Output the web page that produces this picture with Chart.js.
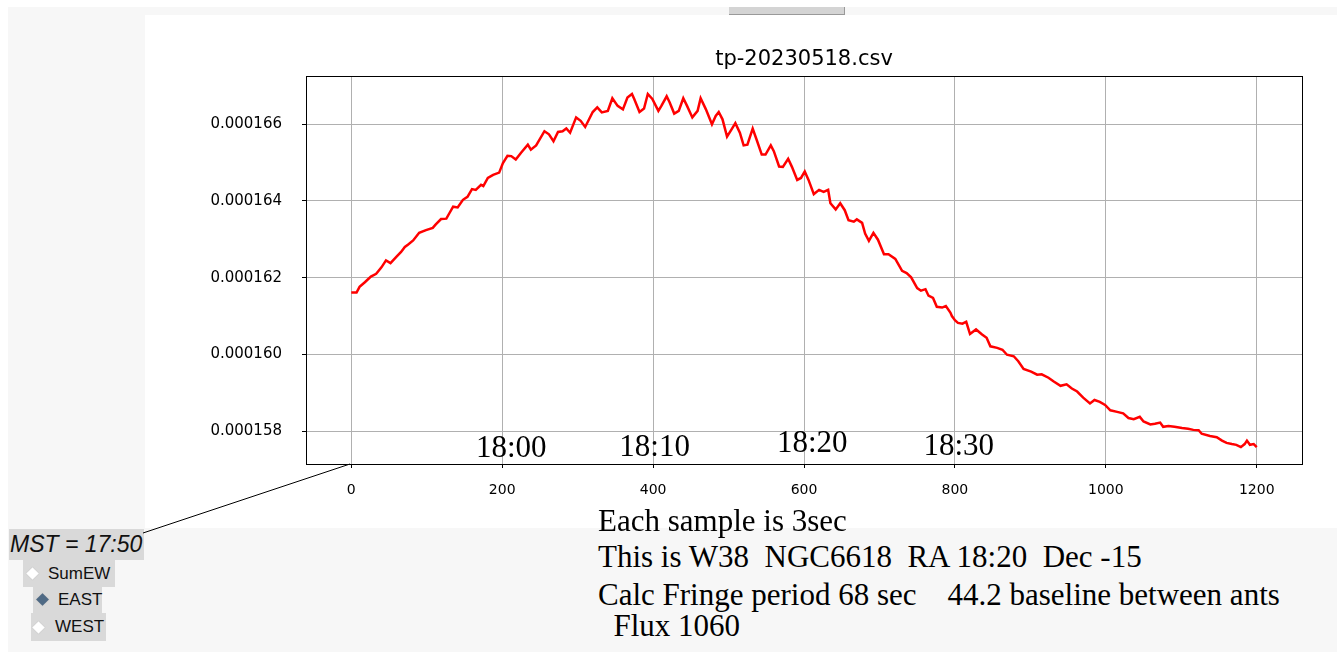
<!DOCTYPE html>
<html>
<head>
<meta charset="utf-8">
<script src="https://cdn.jsdelivr.net/npm/chart.js@4"></script>
<style>
  body { margin: 0; width: 1337px; height: 660px; background: #fff; position: relative; overflow: hidden; font-family: "Liberation Sans", sans-serif; }
  #back { position: absolute; left: 8px; top: 7px; width: 1329px; height: 645px; background: #f7f7f7; }
  #btn { position: absolute; left: 729px; top: 7px; width: 115px; height: 7px; background: #d4d4d4; border-right: 1px solid #999; border-bottom: 1px solid #999; }
  #panel { position: absolute; left: 145px; top: 15px; width: 1192px; height: 513px; background: #fff; }
  #wire { position: absolute; left: 0; top: 0; pointer-events: none; }
  .note { position: absolute; left: 598px; font-family: "Liberation Serif", serif; font-size: 31px; line-height: 34px; color: #000; white-space: pre; }
  #mst { position: absolute; left: 9px; top: 529px; width: 135px; height: 31px; background: #d9d9d9; font-style: italic; font-size: 23px; line-height: 31px; color: #111; white-space: nowrap; }
  #mst span { margin-left: 1px; }
  .radio { position: absolute; background: #d9d9d9; font-size: 17px; color: #111; }
  .radio .dia { position: absolute; width: 9px; height: 9px; transform: rotate(45deg); background: #fff; box-shadow: 0 0 1px #aaa; }
  .radio .lbl { position: absolute; top: 0; }
</style>
</head>
<body>
<div id="back"></div>
<div id="btn"></div>
<div id="panel"><canvas id="chart" width="1192" height="513"></canvas></div>

<div class="note" style="top:504px">Each sample is 3sec</div>
<div class="note" style="top:540px">This is W38  NGC6618  RA 18:20  Dec -15</div>
<div class="note" style="top:578px">Calc Fringe period 68 sec    44.2 baseline between ants</div>
<div class="note" style="top:609px">  Flux 1060</div>

<div id="mst"><span>MST = 17:50</span></div>
<div class="radio" style="left:23px;top:560px;width:92px;height:27px">
  <span class="dia" style="left:5px;top:9px"></span><span class="lbl" style="left:25px;line-height:27px">SumEW</span>
</div>
<div class="radio" style="left:33px;top:587px;width:69px;height:26px">
  <span class="dia" style="left:5px;top:8px;background:#4f6a85"></span><span class="lbl" style="left:25px;line-height:26px">EAST</span>
</div>
<div class="radio" style="left:31px;top:613px;width:75px;height:28px">
  <span class="dia" style="left:3px;top:10px"></span><span class="lbl" style="left:24px;line-height:28px">WEST</span>
</div>

<svg id="wire" width="1337" height="660"><line x1="143" y1="533" x2="350" y2="464" stroke="#000" stroke-width="1"/></svg>

<script>
// sample index (3 s each) and total power
const samples = [
  0, 7, 11, 18, 26, 33, 40, 46, 52, 60, 66, 71, 75, 82, 90, 99, 108, 112, 119, 126,
  130, 135, 141, 148, 154, 160, 165, 172, 175, 181, 188, 196, 201, 207, 212, 218, 225, 234, 238, 245,
  256, 262, 268, 274, 280, 285, 290, 298, 304, 310, 320, 326, 332, 340, 346, 353, 360, 366, 372, 375,
  382, 388, 393, 399, 407, 411, 418, 422, 428, 434, 440, 445, 452, 459, 463, 470, 478, 483, 487, 492,
  498, 504, 509, 515, 520, 525, 532, 537, 544, 549, 556, 560, 567, 572, 579, 584, 591, 596, 601, 606,
  613, 620, 626, 632, 635, 642, 648, 654, 659, 666, 670, 677, 681, 686, 692, 698, 706, 712, 721, 730,
  736, 742, 750, 755, 761, 765, 771, 776, 783, 788, 794, 796, 800, 804, 810, 815, 820, 828, 836, 842,
  847, 856, 863, 869, 878, 884, 891, 901, 909, 915, 924, 931, 940, 948, 955, 962, 970, 979, 985, 992,
  999, 1006, 1015, 1023, 1030, 1037, 1045, 1050, 1059, 1065, 1072, 1076, 1083, 1091, 1101, 1109, 1116, 1123, 1127, 1138,
  1147, 1154, 1160, 1167, 1173, 1179, 1184, 1187, 1191, 1196, 1200
];
const power = [
  161.61e-6, 161.61e-6, 161.76e-6, 161.88e-6, 162.03e-6, 162.10e-6, 162.27e-6, 162.45e-6, 162.38e-6, 162.55e-6,
  162.67e-6, 162.80e-6, 162.86e-6, 162.97e-6, 163.17e-6, 163.24e-6, 163.30e-6, 163.39e-6, 163.53e-6, 163.54e-6,
  163.68e-6, 163.85e-6, 163.83e-6, 164.03e-6, 164.11e-6, 164.31e-6, 164.29e-6, 164.42e-6, 164.39e-6, 164.60e-6,
  164.68e-6, 164.74e-6, 164.99e-6, 165.18e-6, 165.17e-6, 165.08e-6, 165.26e-6, 165.47e-6, 165.34e-6, 165.45e-6,
  165.82e-6, 165.74e-6, 165.56e-6, 165.80e-6, 165.82e-6, 165.89e-6, 165.78e-6, 166.18e-6, 166.09e-6, 165.93e-6,
  166.32e-6, 166.44e-6, 166.31e-6, 166.35e-6, 166.68e-6, 166.48e-6, 166.39e-6, 166.70e-6, 166.79e-6, 166.66e-6,
  166.32e-6, 166.41e-6, 166.79e-6, 166.66e-6, 166.35e-6, 166.48e-6, 166.73e-6, 166.57e-6, 166.28e-6, 166.35e-6,
  166.68e-6, 166.48e-6, 166.18e-6, 166.35e-6, 166.68e-6, 166.39e-6, 166.00e-6, 166.22e-6, 166.32e-6, 166.13e-6,
  165.68e-6, 165.87e-6, 166.03e-6, 165.78e-6, 165.45e-6, 165.47e-6, 165.89e-6, 165.61e-6, 165.21e-6, 165.21e-6,
  165.45e-6, 165.30e-6, 164.90e-6, 164.89e-6, 165.10e-6, 164.89e-6, 164.55e-6, 164.60e-6, 164.77e-6, 164.55e-6,
  164.18e-6, 164.29e-6, 164.24e-6, 164.29e-6, 163.94e-6, 163.78e-6, 163.94e-6, 163.76e-6, 163.50e-6, 163.46e-6,
  163.52e-6, 163.43e-6, 163.15e-6, 162.96e-6, 163.17e-6, 162.99e-6, 162.61e-6, 162.61e-6, 162.49e-6, 162.18e-6,
  162.12e-6, 162.01e-6, 161.73e-6, 161.66e-6, 161.70e-6, 161.53e-6, 161.47e-6, 161.24e-6, 161.22e-6, 161.26e-6,
  161.09e-6, 161.00e-6, 160.89e-6, 160.82e-6, 160.80e-6, 160.85e-6, 160.53e-6, 160.65e-6, 160.52e-6, 160.43e-6,
  160.21e-6, 160.17e-6, 160.12e-6, 159.99e-6, 159.95e-6, 159.82e-6, 159.62e-6, 159.55e-6, 159.47e-6, 159.48e-6,
  159.39e-6, 159.29e-6, 159.18e-6, 159.22e-6, 159.11e-6, 159.03e-6, 158.87e-6, 158.72e-6, 158.81e-6, 158.76e-6,
  158.68e-6, 158.54e-6, 158.50e-6, 158.46e-6, 158.34e-6, 158.31e-6, 158.37e-6, 158.25e-6, 158.17e-6, 158.19e-6,
  158.22e-6, 158.11e-6, 158.13e-6, 158.11e-6, 158.08e-6, 158.06e-6, 158.03e-6, 158.02e-6, 157.93e-6, 157.87e-6,
  157.84e-6, 157.75e-6, 157.69e-6, 157.66e-6, 157.64e-6, 157.58e-6, 157.66e-6, 157.75e-6, 157.64e-6, 157.66e-6,
  157.58e-6
];

const xTicks = [0, 200, 400, 600, 800, 1000, 1200];
const yTicks = [158e-6, 160e-6, 162e-6, 164e-6, 166e-6];
const plotTitle = "tp-20230518.csv";

// MST marks written onto the plot
const timeLabels = ["18:00", "18:10", "18:20", "18:30"];
const timeLabelX = [212, 402, 611, 805];
const timeLabelY = [157.53e-6, 157.55e-6, 157.66e-6, 157.60e-6];

const frameAndMarks = {
    id: "frameAndMarks",
    afterDraw(chart) {
        const { ctx, chartArea: a, scales: { x, y } } = chart;
        ctx.save();
        ctx.strokeStyle = "#000";
        ctx.lineWidth = 1;
        ctx.strokeRect(Math.round(a.left) + 0.5, Math.round(a.top) + 0.5,
            Math.round(a.right - a.left), Math.round(a.bottom - a.top));
        ctx.fillStyle = "#000";
        // title centred over the axes, like matplotlib
        ctx.font = '21px "DejaVu Sans"';
        ctx.textAlign = "center";
        ctx.textBaseline = "alphabetic";
        ctx.fillText(plotTitle, (a.left + a.right) / 2, a.top - 11);
        ctx.font = '31px "Liberation Serif"';
        ctx.textBaseline = "middle";
        timeLabels.forEach((t, i) => {
            ctx.fillText(t, x.getPixelForValue(timeLabelX[i]), y.getPixelForValue(timeLabelY[i]));
        });
        ctx.restore();
    }
};

new Chart(document.getElementById("chart"), {
    type: "line",
    data: {
        datasets: [{
            data: samples.map((s, i) => ({ x: s, y: power[i] })),
            borderColor: "#ff0000",
            borderWidth: 2.5,
            pointRadius: 0,
            tension: 0
        }]
    },
    options: {
        responsive: false,
        animation: false,
        layout: { padding: { right: 35, left: 0, top: 61, bottom: 0 } },
        plugins: {
            legend: { display: false },
            tooltip: { enabled: false },
            title: { display: false }
        },
        scales: {
            x: {
                type: "linear",
                min: -60,
                max: 1260,
                afterBuildTicks: (s) => { s.ticks = xTicks.map(v => ({ value: v })); },
                afterFit: (s) => { s.height = 64; },
                grid: { color: "#b0b0b0", lineWidth: 1, tickLength: 4, tickColor: "#000" },
                border: { display: false },
                ticks: {
                    color: "#000",
                    font: { family: "DejaVu Sans", size: 14 },
                    padding: 14,
                    maxRotation: 0,
                    callback: (v) => String(v)
                }
            },
            y: {
                min: 157.14e-6,
                max: 167.26e-6,
                afterBuildTicks: (s) => { s.ticks = yTicks.map(v => ({ value: v })); },
                afterFit: (s) => { s.width = 161; },
                grid: { color: "#b0b0b0", lineWidth: 1, tickLength: 4, tickColor: "#000" },
                border: { display: false },
                ticks: {
                    color: "#000",
                    font: { family: "DejaVu Sans", size: 15 },
                    padding: 20,
                    callback: (v) => v.toFixed(6)
                }
            }
        }
    },
    plugins: [frameAndMarks]
});
</script>
</body>
</html>
